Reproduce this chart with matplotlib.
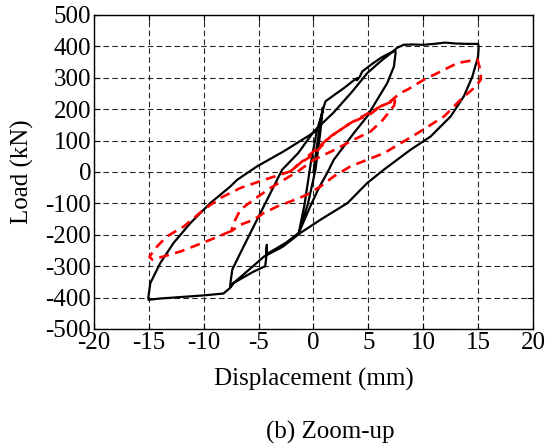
"""Load-displacement hysteresis, zoomed to +/-20 mm."""

import matplotlib

matplotlib.use("Agg")
import matplotlib.pyplot as plt

# Test curve (black, solid): displacement in mm, load in kN
test_disp = [
    0.0, 0.3, 0.85, 0.6, 0.18, -0.5, -1.34, -0.8, -0.27, 0.3, 0.88,
    1.09, 2.0, 2.77, 3.6, 4.0, 3.95, 4.23, 4.44, 5.3, 6.11, 6.8, 7.27, 7.45,
    7.48, 7.33, 6.72, 5.8, 4.89, 3.68, 1.85, 1.25, 0.5, -0.3, -1.34,
    -2.5, -3.6, -4.3, -4.25, -4.3, -4.4, -5.5, -6.5, -7.3, -7.6,
    -7.57, -7.4, -6.66, -5.75, -4.84, -3.92, -2.86, -1.4, 0.03, 1.85, 3.5, 4.9, 6.2, 7.27,
    7.6, 8.2, 9.0, 10.0, 11.0, 12.0, 13.0, 14.0, 15.0, 15.05,
    15.0, 14.48, 13.7, 12.5, 10.67, 8.85, 6.4, 4.9, 3.1, 0.64, -1.19,
    -2.8, -4.5, -6.0, -7.3, -7.6, -8.2, -10.0, -12.0, -14.0, -15.03,
    -15.05, -14.87, -13.96, -12.75, -11.2, -9.4, -7.57, -6.96, -5.14, -2.7, 0.18,
]
test_load = [
    0, 80, 205, 120, 7, -100, -194, -100, 23, 130, 200,
    225, 248, 267, 290, 299, 292, 304, 320, 343, 363, 376, 384, 388,
    379, 336, 283, 230, 177, 124, 39, -3, -50, -110, -194,
    -225, -248, -262, -232, -270, -300, -318, -338, -354, -368,
    -354, -311, -258, -194, -131, -67, 7, 60, 129, 190, 255, 315, 355, 384,
    395, 405, 406, 405, 408, 412, 409, 408, 408, 400,
    368, 304, 241, 177, 113, 71, 7, -35, -99, -152, -194,
    -238, -269, -315, -354, -369, -387, -393, -398, -403, -407,
    -400, -354, -290, -226, -162, -99, -46, -25, 18, 66, 129,
]

# Model curve (red, dashed)
model_disp = [
    -2.1, -1.19, 0.0, 1.55, 3.38, 5.2, 6.11, 7.0, 7.45,
    7.35, 6.3, 5.2, 3.5, 2.0, 0.0, -1.5, -2.7, -3.92, -5.45, -6.66, -7.27, -7.5,
    -6.66, -5.45, -4.54, -3.32, -2.1, -0.57, 0.64, 1.85, 3.38, 6.43, 9.5, 11.9,
    13.4, 14.8, 15.24, 15.24, 14.94,
    13.1, 12.5, 11.3, 10.07, 8.55, 7.94, 7.0, 6.11, 3.38, 1.55, -1.19, -2.1,
    -4.5, -6.66, -8.5, -10.0, -11.8, -13.35, -14.25, -14.7, -14.95, -14.7,
    -13.66, -12.1, -9.4, -7.57,
]
model_load = [
    2, 29, 55, 113, 156, 185, 209, 222, 236,
    212, 165, 129, 100, 72, 38, 0, -25, -51, -88, -120, -162, -189,
    -168, -152, -131, -110, -94, -72, -46, -14, 18, 60, 124, 177,
    230, 273, 294, 320, 358,
    347, 336, 315, 294, 262, 252, 225, 209, 156, 113, 29, 2,
    -25, -51, -83, -120, -173, -205, -237, -258, -270, -279,
    -269, -253, -216, -189,
]

x_ticks = [-20, -15, -10, -5, 0, 5, 10, 15, 20]
y_ticks = [-500, -400, -300, -200, -100, 0, 100, 200, 300, 400, 500]


def main() -> None:
    plt.rcParams["font.family"] = ["Liberation Serif", "DejaVu Serif"]
    plt.rcParams["font.size"] = 18
    plt.rcParams["axes.unicode_minus"] = False

    fig = plt.figure(figsize=(5.51, 4.47), dpi=100)
    ax = fig.add_axes([0.1706, 0.264, 0.7967, 0.7025])

    ax.plot(test_disp, test_load, color="black", linewidth=1.6, zorder=3)
    ax.plot(model_disp, model_load, color="red", linewidth=1.9,
            linestyle=(0, (3.8, 2.4)), zorder=4)

    ax.set_xlim(-20, 20)
    ax.set_ylim(-500, 500)
    ax.set_xticks(x_ticks)
    ax.set_yticks(y_ticks)
    ax.grid(True, color="black", linestyle=(0, (5, 3)), linewidth=0.8, alpha=0.85)
    ax.tick_params(direction="in", top=True, right=True, length=4, width=0.8,
                   labelsize=18, pad=2)
    for spine in ax.spines.values():
        spine.set_linewidth(1.0)

    ax.set_xlabel("Displacement (mm)", fontsize=18, va="center")
    ax.set_ylabel("Load (kN)", fontsize=18, va="center")
    ax.xaxis.set_label_coords(0.5, -0.162)
    ax.yaxis.set_label_coords(-0.162, 0.5)

    fig.text(330 / 551, 1 - 432 / 447, "(b) Zoom-up", fontsize=18,
             ha="center", va="center")

    fig.savefig("out.png", dpi=100)
    plt.close(fig)


if __name__ == "__main__":
    main()
